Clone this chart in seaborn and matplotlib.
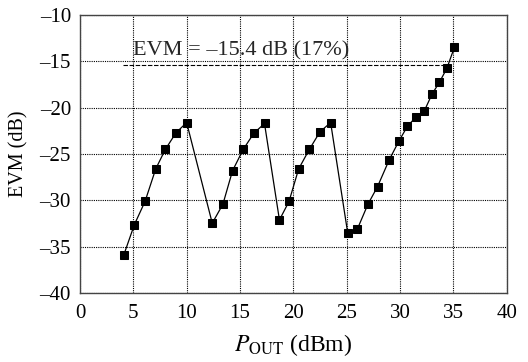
import numpy as np
import pandas as pd
import matplotlib
matplotlib.use('Agg')
import matplotlib.pyplot as plt
import seaborn as sns

pout = [4.1, 5.1, 6.1, 7.1, 8.0, 9.0, 10.0,
        12.4, 13.4, 14.3, 15.3, 16.3, 17.3,
        18.7, 19.6, 20.5, 21.5, 22.5, 23.5,
        25.1, 26.0, 27.0, 27.9, 29.0, 29.9, 30.7, 31.5, 32.3, 33.0, 33.7, 34.4, 35.1]
evm = [-35.9, -32.6, -30.1, -26.6, -24.5, -22.7, -21.6,
       -32.45, -30.4, -26.8, -24.5, -22.75, -21.7,
       -32.1, -30.1, -26.6, -24.5, -22.6, -21.6,
       -33.5, -33.1, -30.4, -28.5, -25.6, -23.6, -22.0, -21.0, -20.3, -18.55, -17.25, -15.75, -13.5]
evm_limit = -15.4
limit_span = [4.0, 35.0]
x_ticks = [0, 5, 10, 15, 20, 25, 30, 35, 40]
y_ticks = [-40, -35, -30, -25, -20, -15, -10]

df = pd.DataFrame({'pout': pout, 'evm': evm})

sns.set_theme(style='white')
plt.rcParams['font.family'] = ['Liberation Serif', 'DejaVu Serif']
plt.rcParams['mathtext.fontset'] = 'stix'

fig = plt.figure(figsize=(5.28, 3.62), dpi=100)
ax = fig.add_axes([0.1515, 0.19, 0.808, 0.7686])

sns.lineplot(data=df, x='pout', y='evm', sort=False, ax=ax, color='black',
             linewidth=0.9, marker='s', markersize=5.5, markeredgecolor='black',
             markerfacecolor='black')

ax.plot(limit_span, [evm_limit, evm_limit], color='black', linestyle=(0, (4, 1.5)), linewidth=0.8)
ax.text(5.0, evm_limit + 0.45, 'EVM = \u201315.4 dB (17%)', fontsize=16, ha='left', va='bottom')

ax.set_xlim(0, 40)
ax.set_ylim(-40, -10)
ax.set_xticks(x_ticks)
ax.set_yticks(y_ticks)
ax.set_yticklabels([('\u2013' + str(-t)) for t in y_ticks])
ax.grid(True, color='black', linestyle=(0, (1, 1)), linewidth=0.8)
ax.tick_params(axis='both', labelsize=15, length=0, colors='black')
ax.tick_params(axis='x', pad=7.5)
ax.tick_params(axis='y', pad=6.5)
for s in ax.spines.values():
    s.set_color('#444444')
    s.set_linewidth(1.0)

ax.set_xlabel(r'$P_{\mathrm{OUT}}$ (dBm)', fontsize=17, color='black', labelpad=7)
ax.set_ylabel('EVM (dB)', fontsize=14.5, color='black', labelpad=8)

fig.savefig('out.png', dpi=100)
